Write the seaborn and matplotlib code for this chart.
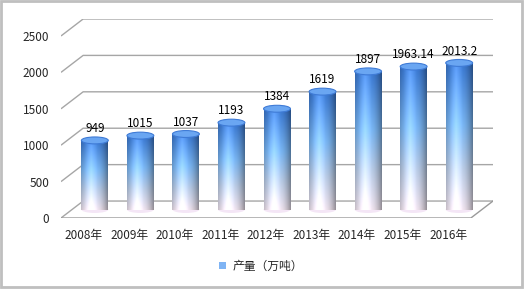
import numpy as np
import matplotlib
matplotlib.use("Agg")
import matplotlib.pyplot as plt
import seaborn as sns
from matplotlib.patches import Ellipse, Rectangle, Patch
from matplotlib.colors import LinearSegmentedColormap, to_rgb
import matplotlib.transforms as mtransforms

years = ["2008年", "2009年", "2010年", "2011年", "2012年", "2013年", "2014年", "2015年", "2016年"]
values = [949, 1015, 1037, 1193, 1384, 1619, 1897, 1963.14, 2013.2]
value_labels = ["949", "1015", "1037", "1193", "1384", "1619", "1897", "1963.14", "2013.2"]
yticks = [0, 500, 1000, 1500, 2000, 2500]
series_name = "产量（万吨）"

sns.set_theme(style="white")
plt.rcParams['font.family'] = ['Noto Sans CJK SC', 'DejaVu Sans']

W, H = 525, 290
fig = plt.figure(figsize=(W / 100, H / 100), dpi=100)
fig.patch.set_facecolor("white")

# axes in pixel layout
left_px, right_px, top_px, bot_px = 61, 493, 19, 218
ax = fig.add_axes([left_px / W, (H - bot_px) / H, (right_px - left_px) / W, (bot_px - top_px) / H])
ax.set_facecolor("none")

n = len(years)
dxc = 0.486        # depth offset in category units
dyv = 233.0        # depth offset in value units
ax.set_xlim(-0.5, n - 0.5 + dxc)
ax.set_ylim(0, 2500 + dyv)

bar_w = 0.59
sns.barplot(x=years, y=values, ax=ax, width=bar_w, color="#6fa8ee", zorder=3)

# 3D grid lines
grid_c = "#a6a6a6"
for v in yticks:
    ax.plot([-0.5, -0.5 + dxc, n - 0.5 + dxc], [v, v + dyv, v + dyv],
            color=grid_c, lw=1.0, zorder=1, solid_capstyle="butt")
ax.plot([-0.5, n - 0.5, n - 0.5 + dxc], [0, 0, dyv], color="#9a9a9a", lw=1.0, zorder=1)

# gradient for cylinders
vstops = [(0.0, "#3d7edb"), (0.42, "#7fbefe"), (0.72, "#c3d6f2"), (1.0, "#fcf0fc")]
vcmap = LinearSegmentedColormap.from_list("v", vstops)
ny, nx = 200, 60
tv = np.linspace(0, 1, ny)[:, None]
base = vcmap(np.repeat(tv, nx, axis=1))[..., :3]
th = np.linspace(-1, 1, nx)[None, :]
shade = 1.0 - 0.30 * np.abs(th + 0.15) ** 2.2
hl = np.clip(1 - np.abs(th + 0.25) / 0.5, 0, 1) * 0.12
img = np.clip(base * shade[..., None] + hl[..., None], 0, 1)

ell_h = 95.0
trans = mtransforms.Affine2D().translate(dxc / 2, dyv / 2) + ax.transData
for i, p in enumerate(ax.patches[:n]):
    x0 = p.get_x()
    w = p.get_width()
    h = p.get_height()
    p.set_visible(False)
    xs, ys = x0 + dxc / 2, dyv / 2
    # bottom ellipse
    ax.add_patch(Ellipse((xs + w / 2, ys), w, ell_h, facecolor="#f4e6f6",
                         edgecolor="none", zorder=3))
    ax.imshow(img, extent=[xs, xs + w, ys, ys + h], aspect="auto", zorder=4,
              interpolation="bilinear")
    ax.add_patch(Ellipse((xs + w / 2, ys + h), w, ell_h, facecolor="#6aa6f2",
                         edgecolor="#3f7bd6", lw=0.8, zorder=5))
    ax.text(xs + w / 2, ys + h + ell_h / 2 + 25, value_labels[i], ha="center", va="bottom",
            fontsize=8.5, color="black", zorder=6)

ax.set_xlim(-0.5, n - 0.5 + dxc)
ax.set_ylim(0, 2500 + dyv)

ax.set_yticks(yticks)
ax.set_yticklabels([str(v) for v in yticks], fontsize=8.5)
ax.set_xticks(range(n))
ax.set_xticklabels(years, fontsize=8.5)
ax.tick_params(axis="y", length=0, pad=8.5)
ax.tick_params(axis="x", length=0, pad=8.0)
ax.set_xlabel("")
ax.set_ylabel("")
for s in ax.spines.values():
    s.set_visible(False)
ax.grid(False)

# legend
leg_h = Patch(facecolor="#7fb4f4", edgecolor="none")
fig.legend([leg_h], [series_name], loc="center", bbox_to_anchor=(261 / W, 1 - 266 / H),
           frameon=False, fontsize=8.5, handlelength=0.6, handleheight=0.6,
           handletextpad=0.5)

# figure border
fig.patches.append(Rectangle((1 / W, 3 / H), 521 / W, 1 - 4 / H, transform=fig.transFigure,
                             fill=False, edgecolor="#bfbfbf", lw=2.0))

fig.savefig("out.png", dpi=100)
